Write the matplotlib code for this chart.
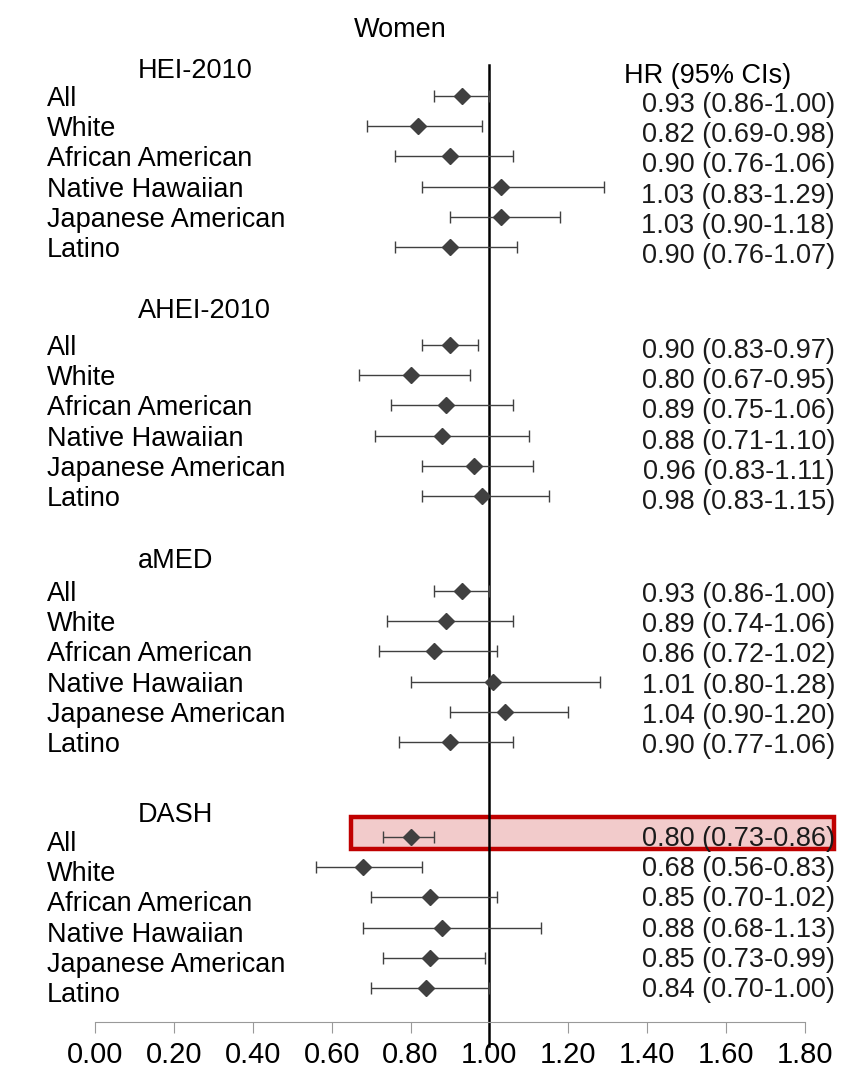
import numpy as np
import matplotlib.pyplot as plt

plt.rcParams['font.family'] = ['Liberation Sans', 'DejaVu Sans']

groups = ['HEI-2010', 'AHEI-2010', 'aMED', 'DASH']
subgroups = ['All', 'White', 'African American', 'Native Hawaiian',
             'Japanese American', 'Latino']

hr = [[0.93, 0.82, 0.90, 1.03, 1.03, 0.90],
      [0.90, 0.80, 0.89, 0.88, 0.96, 0.98],
      [0.93, 0.89, 0.86, 1.01, 1.04, 0.90],
      [0.80, 0.68, 0.85, 0.88, 0.85, 0.84]]
lo = [[0.86, 0.69, 0.76, 0.83, 0.90, 0.76],
      [0.83, 0.67, 0.75, 0.71, 0.83, 0.83],
      [0.86, 0.74, 0.72, 0.80, 0.90, 0.77],
      [0.73, 0.56, 0.70, 0.68, 0.73, 0.70]]
hi = [[1.00, 0.98, 1.06, 1.29, 1.18, 1.07],
      [0.97, 0.95, 1.06, 1.10, 1.11, 1.15],
      [1.00, 1.06, 1.02, 1.28, 1.20, 1.06],
      [0.86, 0.83, 1.02, 1.13, 0.99, 1.00]]

ticks = np.arange(0, 1.81, 0.2)

# layout (pixel-like y, inverted axis)
header_y = [68, 308, 558, 812]
label_y0 = [96, 345, 591, 841]
value_y0 = [102, 348, 592, 836]
step = 30.2
dy = 3  # text baseline nudge

fig = plt.figure(figsize=(8.54, 10.74), dpi=100)
ax = fig.add_axes([0, 0, 1, 1])
ax.set_xlim(-95 / 394.4, (854 - 95) / 394.4)
ax.set_ylim(1074, 0)

x_lab = (47 - 95) / 394.4
x_head = (138 - 95) / 394.4
x_val = (835 - 95) / 394.4
fs = 19.5

# highlight box around DASH / All
ax.add_patch(plt.Rectangle(((351 - 95) / 394.4, label_y0[3] - 24), 1.224, 32,
                           facecolor='#f2cbcb', edgecolor='#c00000', lw=3.2,
                           zorder=1))

ax.plot([1, 1], [65, 1046], color='black', lw=1.8, zorder=2)

for g in range(4):
    ax.text(x_head, header_y[g] + dy, groups[g], fontsize=fs, ha='left',
            va='center')
    for i in range(6):
        yl = label_y0[g] + i * step
        yv = value_y0[g] + i * step
        ym = yl - (4 if g == 3 else 0)
        ax.text(x_lab, yl + dy, subgroups[i], fontsize=fs, ha='left',
                va='center')
        ax.errorbar(hr[g][i], ym,
                    xerr=[[hr[g][i] - lo[g][i]], [hi[g][i] - hr[g][i]]],
                    fmt='D', color='#404040', ms=8, elinewidth=1.0,
                    ecolor='#404040', capsize=4, capthick=1.0, zorder=3)
        ax.text(x_val, yv + dy, '%.2f (%.2f-%.2f)' % (hr[g][i], lo[g][i], hi[g][i]),
                fontsize=fs, ha='right', va='center', color='#1a1a1a', zorder=4)

ax.text((708 - 95) / 394.4, 73 + dy, 'HR (95% CIs)', fontsize=fs, ha='center',
        va='center')
ax.text((400 - 95) / 394.4, 27 + dy, 'Women', fontsize=fs, ha='center',
        va='center')

# bottom axis
for s in ['top', 'left', 'right']:
    ax.spines[s].set_visible(False)
ax.spines['bottom'].set_position(('data', 1022))
ax.spines['bottom'].set_bounds(0, 1.8)
ax.spines['bottom'].set_color('#999999')
ax.set_xticks(ticks)
ax.set_xticklabels(['%.2f' % t for t in ticks])
ax.tick_params(axis='x', direction='out', length=8, color='#999999',
               labelsize=21, pad=6)
ax.set_yticks([])

plt.savefig('out.png', dpi=100)
